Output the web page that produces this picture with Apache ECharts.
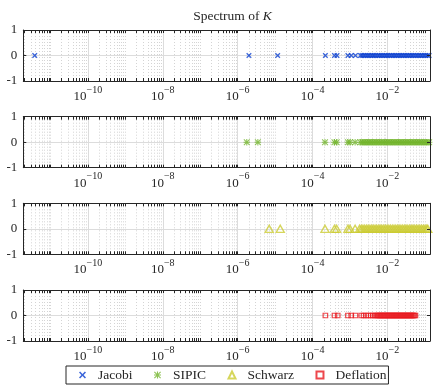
<!DOCTYPE html>
<html>
<head>
<meta charset="utf-8">
<script src="https://cdn.jsdelivr.net/npm/echarts@6/dist/echarts.min.js"></script>
<style>
  html, body { margin: 0; padding: 0; background: #fff; }
  #chart { width: 434px; height: 385px; }
</style>
</head>
<body>
<div id="chart"></div>
<script>
var jacobi = [3.8e-12, 2.0e-6, 1.17e-5, 2.2e-4, 3.85e-4, 4.5e-4, 8.8e-4, 1.08e-3, 1.4e-3,
  1.9e-3, 2.1e-3, 2.35e-3, 2.6e-3, 2.9e-3, 3.2e-3, 3.6e-3, 4.0e-3, 4.4e-3, 4.9e-3,
  5.5e-3, 6.1e-3, 6.8e-3, 7.5e-3, 8.4e-3, 9.3e-3, 1.03e-2, 1.15e-2, 1.28e-2, 1.42e-2,
  1.58e-2, 1.75e-2, 1.95e-2, 2.17e-2, 2.4e-2, 2.67e-2, 2.97e-2, 3.3e-2, 3.67e-2, 4.08e-2,
  4.53e-2, 5.0e-2, 5.6e-2, 6.2e-2, 6.9e-2, 7.7e-2, 8.5e-2, 9.5e-2, 0.105, 0.117, 0.13];
var sipic = [1.75e-6, 3.46e-6, 2.15e-4, 3.85e-4, 4.4e-4, 8.8e-4, 1.0e-3, 1.37e-3,
  1.9e-3, 2.12e-3, 2.36e-3, 2.62e-3, 2.92e-3, 3.24e-3, 3.6e-3, 4.0e-3, 4.45e-3, 4.95e-3,
  5.5e-3, 6.1e-3, 6.8e-3, 7.6e-3, 8.4e-3, 9.4e-3, 1.04e-2, 1.16e-2, 1.29e-2, 1.43e-2,
  1.59e-2, 1.77e-2, 1.97e-2, 2.19e-2, 2.43e-2, 2.7e-2, 3.0e-2, 3.34e-2, 3.71e-2, 4.12e-2,
  4.58e-2, 5.1e-2, 5.65e-2, 6.3e-2, 7.0e-2, 7.8e-2, 8.6e-2, 9.6e-2, 0.107, 0.119, 0.13];
var schwarz = [6.95e-6, 1.37e-5, 2.15e-4, 3.85e-4, 4.4e-4, 8.8e-4, 1.0e-3, 1.37e-3,
  1.8e-3, 2.0e-3, 2.22e-3, 2.47e-3, 2.75e-3, 3.05e-3, 3.4e-3, 3.78e-3, 4.2e-3, 4.67e-3,
  5.2e-3, 5.8e-3, 6.4e-3, 7.1e-3, 7.9e-3, 8.8e-3, 9.8e-3, 1.09e-2, 1.21e-2, 1.35e-2,
  1.5e-2, 1.67e-2, 1.85e-2, 2.06e-2, 2.29e-2, 2.55e-2, 2.83e-2, 3.15e-2, 3.5e-2, 3.9e-2,
  4.33e-2, 4.8e-2, 5.35e-2, 5.95e-2, 6.6e-2, 7.35e-2, 8.2e-2, 9.1e-2, 0.101, 0.112, 0.12];
var deflation = [2.2e-4, 3.85e-4, 4.7e-4, 8.8e-4, 1.08e-3, 1.4e-3, 2.0e-3, 2.3e-3,
  2.7e-3, 3.1e-3, 3.6e-3, 4.1e-3, 4.6e-3, 5.1e-3, 5.5e-3, 5.9e-3, 6.3e-3, 6.7e-3,
  7.1e-3, 7.6e-3, 8.1e-3, 8.6e-3, 9.2e-3, 9.8e-3, 1.04e-2, 1.11e-2, 1.18e-2, 1.26e-2,
  1.34e-2, 1.43e-2, 1.52e-2, 1.62e-2, 1.72e-2, 1.83e-2, 1.95e-2, 2.08e-2, 2.21e-2, 2.35e-2,
  2.5e-2, 2.66e-2, 2.83e-2, 3.01e-2, 3.2e-2, 3.4e-2, 3.62e-2, 3.85e-2, 4.1e-2, 4.36e-2,
  4.64e-2, 4.94e-2, 5.25e-2, 5.6e-2];

var names = ['Jacobi', 'SIPIC', 'Schwarz', 'Deflation'];
var colors = ['#0a3fd0', '#72b42a', '#cccc33', '#e8191f'];
var majorTicks = [1e-10, 1e-8, 1e-6, 1e-4, 1e-2];
var xMin = 1.88e-12, xMax = 0.137;

// every k*10^e inside the axis range (minor + major)
var allTicks = [];
for (var e = -12; e <= -1; e++) {
    for (var k = 1; k <= 9; k++) {
        var v = k * Math.pow(10, e);
        if (v >= xMin && v <= xMax) allTicks.push(v);
    }
}
var minorTicks = allTicks.filter(function (v) {
    return majorTicks.every(function (m) { return Math.abs(v / m - 1) > 1e-6; });
});

var serif = 'Liberation Serif';
var axisColor = '#262626';

var symX = 'path://M0,1.6L1.6,0L5,3.4L8.4,0L10,1.6L6.6,5L10,8.4L8.4,10L5,6.6L1.6,10L0,8.4L3.4,5Z';
var symStar = 'path://M4.2,0h1.6v10h-1.6z M0,4.2h10v1.6h-10z M1.1,0L10,8.9L8.9,10L0,1.1Z M8.9,0L10,1.1L1.1,10L0,8.9Z';

var panelTops = [30, 116.7, 203.3, 290];
var panelH = 51;

var grids = [], xAxes = [], yAxes = [], series = [];
var allData = [jacobi, sipic, schwarz, deflation];

function expLabel(val) {
    var p = Math.round(Math.log10(val));
    return '{b|10}{e|' + (p < 0 ? '\u2212' : '') + Math.abs(p) + '}';
}

panelTops.forEach(function (top, i) {
    grids.push({ left: 23.3, right: 4, top: top, height: panelH, show: false });
    var base = { type: 'log', gridIndex: i, min: xMin, max: xMax, logBase: 10 };
    // bottom axis: line, all ticks, labels at majors
    xAxes.push(Object.assign({}, base, {
        position: 'bottom', z: 5,
        axisLine: { show: true, onZero: false, lineStyle: { color: axisColor, width: 1 } },
        axisTick: { show: true, inside: true, length: 3, customValues: allTicks, lineStyle: { color: axisColor } },
        axisLabel: {
            show: true, customValues: majorTicks, margin: 4,
            formatter: expLabel,
            rich: {
                b: { fontFamily: serif, fontSize: 13, color: '#262626', lineHeight: 18, verticalAlign: 'bottom' },
                e: { fontFamily: serif, fontSize: 10, color: '#262626', lineHeight: 11, verticalAlign: 'top' }
            }
        },
        splitLine: { show: false }
    }));
    // top axis: line + ticks
    xAxes.push(Object.assign({}, base, {
        position: 'top', z: 5,
        axisLine: { show: true, onZero: false, lineStyle: { color: axisColor, width: 1 } },
        axisTick: { show: true, inside: true, length: 3, customValues: allTicks, lineStyle: { color: axisColor } },
        axisLabel: { show: false },
        splitLine: { show: false }
    }));
    // major grid lines
    xAxes.push(Object.assign({}, base, {
        position: 'bottom', z: 1,
        axisLine: { show: false }, axisLabel: { show: false },
        axisTick: { show: false, customValues: majorTicks },
        splitLine: { show: true, lineStyle: { color: '#dcdcdc', width: 1, type: 'solid' } }
    }));
    // minor grid lines
    xAxes.push(Object.assign({}, base, {
        position: 'bottom', z: 1,
        axisLine: { show: false }, axisLabel: { show: false },
        axisTick: { show: false, customValues: minorTicks },
        splitLine: { show: true, lineStyle: { color: '#d4d4d4', width: 1, type: [1, 2] } }
    }));

    var ybase = { type: 'value', gridIndex: i, min: -1, max: 1, interval: 1 };
    yAxes.push(Object.assign({}, ybase, {
        position: 'left', z: 5,
        axisLine: { show: true, onZero: false, lineStyle: { color: axisColor, width: 1 } },
        axisTick: { show: true, inside: true, length: 3, lineStyle: { color: axisColor } },
        axisLabel: { show: true, margin: 6, fontFamily: serif, fontSize: 13, color: '#262626' },
        splitLine: { show: false }
    }));
    yAxes.push(Object.assign({}, ybase, {
        position: 'right', z: 5,
        axisLine: { show: true, onZero: false, lineStyle: { color: axisColor, width: 1 } },
        axisTick: { show: true, inside: true, length: 3, lineStyle: { color: axisColor } },
        axisLabel: { show: false },
        splitLine: { show: false }
    }));
    yAxes.push(Object.assign({}, ybase, {
        position: 'left', z: 1,
        axisLine: { show: false }, axisLabel: { show: false },
        axisTick: { show: false, customValues: [0] },
        splitLine: { show: true, lineStyle: { color: '#dcdcdc', width: 1 } }
    }));
});

var symbolDefs = [
    { symbol: symX, symbolSize: 5.5, itemStyle: { color: colors[0] } },
    { symbol: symStar, symbolSize: 6.5, itemStyle: { color: colors[1] } },
    { symbol: 'triangle', symbolSize: [8, 7], itemStyle: { color: 'rgba(0,0,0,0)', borderColor: colors[2], borderWidth: 1.4 } },
    { symbol: 'rect', symbolSize: 4.5, itemStyle: { color: 'rgba(0,0,0,0)', borderColor: colors[3], borderWidth: 1.2 } }
];

allData.forEach(function (arr, i) {
    series.push(Object.assign({
        name: names[i],
        type: 'scatter',
        xAxisIndex: 4 * i,
        yAxisIndex: 3 * i,
        z: 3,
        clip: false,
        emphasis: { disabled: true },
        data: arr.map(function (v) { return [v, 0]; })
    }, symbolDefs[i]));
});

var myChart = echarts.init(document.getElementById('chart'), null, { renderer: 'canvas' });
var option = {
    animation: false,
    backgroundColor: '#ffffff',
    title: {
        text: '{n|Spectrum of }{i|K}',
        left: 227.5, top: 4, textAlign: 'center',
        textStyle: {
            fontWeight: 'normal',
            rich: {
                n: { fontFamily: serif, fontSize: 13.5, fontWeight: 'normal', color: '#262626' },
                i: { fontFamily: serif, fontSize: 13.5, fontWeight: 'normal', fontStyle: 'italic', color: '#262626' }
            }
        }
    },
    legend: {
        data: names,
        left: 66, top: 366,
        orient: 'horizontal',
        padding: [2, 2, 2, 13],
        itemWidth: 7, itemHeight: 7,
        itemGap: 21.5,
        borderColor: '#262626', borderWidth: 1,
        textStyle: { fontFamily: serif, fontSize: 13.5, color: '#262626', padding: [0, 0, 0, 7] }
    },
    grid: grids,
    xAxis: xAxes,
    yAxis: yAxes,
    series: series
};
myChart.setOption(option);
</script>
</body>
</html>
